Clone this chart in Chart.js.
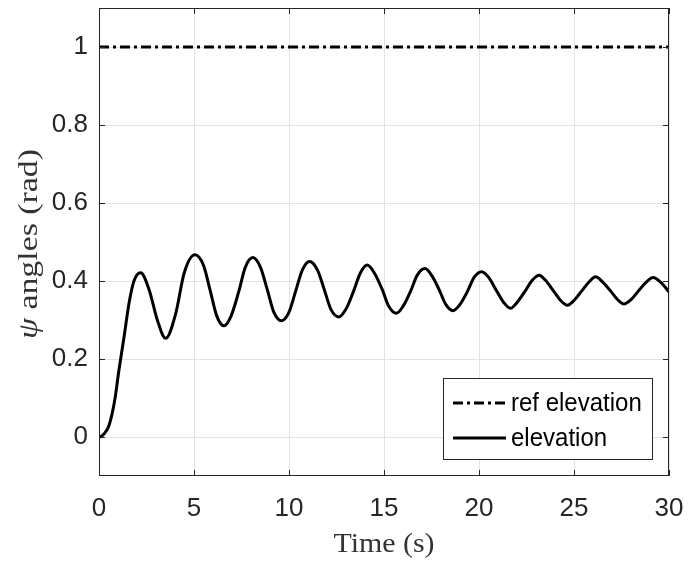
<!DOCTYPE html>
<html>
<head>
<meta charset="utf-8">
<script src="https://cdn.jsdelivr.net/npm/chart.js@4.4.1/dist/chart.umd.min.js"></script>
<style>
  html, body { margin: 0; padding: 0; background: #ffffff; }
  #wrap { width: 688px; height: 571px; position: relative; }
</style>
</head>
<body>
<div id="wrap"><canvas id="c" width="688" height="571"></canvas></div>
<script>
// ---- data ----
const timeSec = [0, 0.1, 0.3, 0.53, 0.83, 1.05, 1.32, 1.58, 1.84, 2.19, 2.64, 3.07, 3.51, 4.04, 4.48, 5.05, 5.5, 5.85, 6.2, 6.58, 6.95, 7.35, 7.7, 8.1, 8.5, 8.85, 9.2, 9.61, 10.0, 10.35, 10.7, 11.08, 11.5, 11.85, 12.2, 12.63, 13.0, 13.4, 13.75, 14.12, 14.5, 14.9, 15.25, 15.65, 16.0, 16.4, 16.75, 17.16, 17.5, 17.9, 18.25, 18.63, 19.0, 19.4, 19.75, 20.14, 20.5, 20.9, 21.3, 21.66, 22.0, 22.4, 22.8, 23.16, 23.5, 23.9, 24.3, 24.65, 25.0, 25.4, 25.8, 26.14, 26.5, 26.9, 27.3, 27.63, 28.0, 28.4, 28.8, 29.16, 29.6, 30];
const elevation = [0, 0.001, 0.01, 0.03, 0.095, 0.172, 0.257, 0.343, 0.40, 0.421, 0.377, 0.30, 0.253, 0.317, 0.42, 0.467, 0.44, 0.376, 0.31, 0.285, 0.31, 0.372, 0.435, 0.46, 0.435, 0.379, 0.32, 0.298, 0.32, 0.374, 0.428, 0.45, 0.428, 0.379, 0.328, 0.308, 0.328, 0.374, 0.42, 0.441, 0.42, 0.379, 0.335, 0.317, 0.335, 0.374, 0.415, 0.432, 0.415, 0.378, 0.34, 0.324, 0.34, 0.374, 0.41, 0.424, 0.41, 0.377, 0.345, 0.33, 0.345, 0.372, 0.402, 0.415, 0.402, 0.376, 0.35, 0.338, 0.35, 0.374, 0.398, 0.411, 0.398, 0.376, 0.352, 0.341, 0.352, 0.375, 0.397, 0.409, 0.395, 0.372];
const refTime = [0, 30];
const refElevation = [1, 1];
const xTicks = [0, 5, 10, 15, 20, 25, 30];
const yTicks = [0, 0.2, 0.4, 0.6, 0.8, 1];
const seriesLabels = ['ref elevation', 'elevation'];
const xTitleText = 'Time (s)';
const yTitleSymbol = 'ψ';
const yTitleText = ' angles (rad)';

const toPts = (xs, ys) => xs.map((x, i) => ({ x: x, y: ys[i] }));
const AX = '#262626';
const TICKFONT = { family: "'Liberation Sans', Arial, sans-serif", size: 26 };
const SERIF = "'Liberation Serif', 'DejaVu Serif', serif";

const boxTicks = {
  id: 'boxTicks',
  afterDatasetsDraw(chart) {
    const { ctx, chartArea: a, scales } = chart;
    ctx.save();
    ctx.strokeStyle = AX;
    ctx.lineWidth = 1;
    ctx.strokeRect(a.left + 0.5, a.top + 0.5, a.right - a.left - 1, a.bottom - a.top - 1);
    const L = 6;
    ctx.beginPath();
    xTicks.forEach(v => {
      const px = Math.round(scales.x.getPixelForValue(v)) + 0.5;
      ctx.moveTo(px, a.bottom); ctx.lineTo(px, a.bottom - L);
      ctx.moveTo(px, a.top); ctx.lineTo(px, a.top + L);
    });
    yTicks.forEach(v => {
      const py = Math.round(scales.y.getPixelForValue(v)) + 0.5;
      ctx.moveTo(a.left, py); ctx.lineTo(a.left + L, py);
      ctx.moveTo(a.right, py); ctx.lineTo(a.right - L, py);
    });
    ctx.stroke();
    ctx.restore();
  }
};

const insideLegend = {
  id: 'insideLegend',
  afterDraw(chart) {
    const { ctx } = chart;
    const x0 = 443, y0 = 378, w = 209, h = 81;
    ctx.save();
    ctx.fillStyle = '#ffffff';
    ctx.fillRect(x0, y0, w, h);
    ctx.strokeStyle = AX;
    ctx.lineWidth = 1;
    ctx.strokeRect(x0 + 0.5, y0 + 0.5, w, h);
    const rows = [y0 + 25, y0 + 60];
    chart.data.datasets.forEach((ds, i) => {
      const y = rows[i];
      ctx.beginPath();
      ctx.strokeStyle = ds.borderColor;
      ctx.lineWidth = ds.borderWidth;
      ctx.setLineDash(ds.borderDash || []);
      ctx.moveTo(x0 + 10, y);
      ctx.lineTo(x0 + 63, y);
      ctx.stroke();
      ctx.setLineDash([]);
      ctx.fillStyle = '#000000';
      ctx.font = "25px 'Liberation Sans', Arial, sans-serif";
      ctx.textBaseline = 'middle';
      ctx.save();
      ctx.translate(x0 + 68, y + 1);
      ctx.scale(0.96, 1);
      ctx.fillText(ds.label, 0, 0);
      ctx.restore();
    });
    ctx.restore();
  }
};

function drawStretched(ctx, parts, targetWidth) {
  let total = 0;
  parts.forEach(p => { ctx.font = p.font; p.w = ctx.measureText(p.text).width; total += p.w; });
  const sx = targetWidth / total;
  ctx.scale(sx, 1);
  let x = -total / 2;
  parts.forEach(p => { ctx.font = p.font; ctx.fillText(p.text, x, 0); x += p.w; });
}

const axisTitles = {
  id: 'axisTitles',
  afterDraw(chart) {
    const { ctx, chartArea: a } = chart;
    ctx.save();
    ctx.fillStyle = '#333333';
    ctx.textBaseline = 'middle';
    // y title
    ctx.save();
    ctx.translate(30, (a.top + a.bottom) / 2 + 2);
    ctx.rotate(-Math.PI / 2);
    drawStretched(ctx, [
      { text: yTitleSymbol, font: "italic 27px " + SERIF },
      { text: yTitleText, font: "27px " + SERIF }
    ], 190);
    ctx.restore();
    // x title
    ctx.save();
    ctx.translate((a.left + a.right) / 2, 545);
    drawStretched(ctx, [{ text: xTitleText, font: "27px " + SERIF }], 101);
    ctx.restore();
    ctx.restore();
  }
};

new Chart(document.getElementById('c'), {
  type: 'line',
  data: {
    datasets: [
      {
        label: seriesLabels[0],
        data: toPts(refTime, refElevation),
        borderColor: '#000000',
        borderWidth: 3,
        borderDash: [10, 4, 3, 4],
        pointRadius: 0,
        fill: false
      },
      {
        label: seriesLabels[1],
        data: toPts(timeSec, elevation),
        borderColor: '#000000',
        borderWidth: 3,
        cubicInterpolationMode: 'monotone',
        pointRadius: 0,
        fill: false
      }
    ]
  },
  options: {
    responsive: false,
    animation: false,
    layout: { padding: { left: 0, right: 19, top: 8, bottom: 0 } },
    plugins: { legend: { display: false }, tooltip: { enabled: false } },
    scales: {
      x: {
        type: 'linear',
        min: 0, max: 30,
        afterBuildTicks: s => { s.ticks = xTicks.map(v => ({ value: v })); },
        afterFit: s => { s.height = 95; s.paddingLeft = 0; s.paddingRight = 0; },
        grid: { color: '#e3e3e3', lineWidth: 1, drawTicks: false },
        border: { display: false },
        ticks: { color: AX, font: TICKFONT, padding: 17, maxRotation: 0 }
      },
      y: {
        type: 'linear',
        min: -0.1, max: 1.1,
        afterBuildTicks: s => { s.ticks = yTicks.map(v => ({ value: v })); },
        afterFit: s => { s.width = 99; s.paddingTop = 0; s.paddingBottom = 0; },
        grid: { color: '#e3e3e3', lineWidth: 1, drawTicks: false },
        border: { display: false },
        ticks: { color: AX, font: TICKFONT, padding: 11, callback: v => String(Math.round(v * 10) / 10) }
      }
    }
  },
  plugins: [boxTicks, insideLegend, axisTitles]
});
</script>
</body>
</html>
